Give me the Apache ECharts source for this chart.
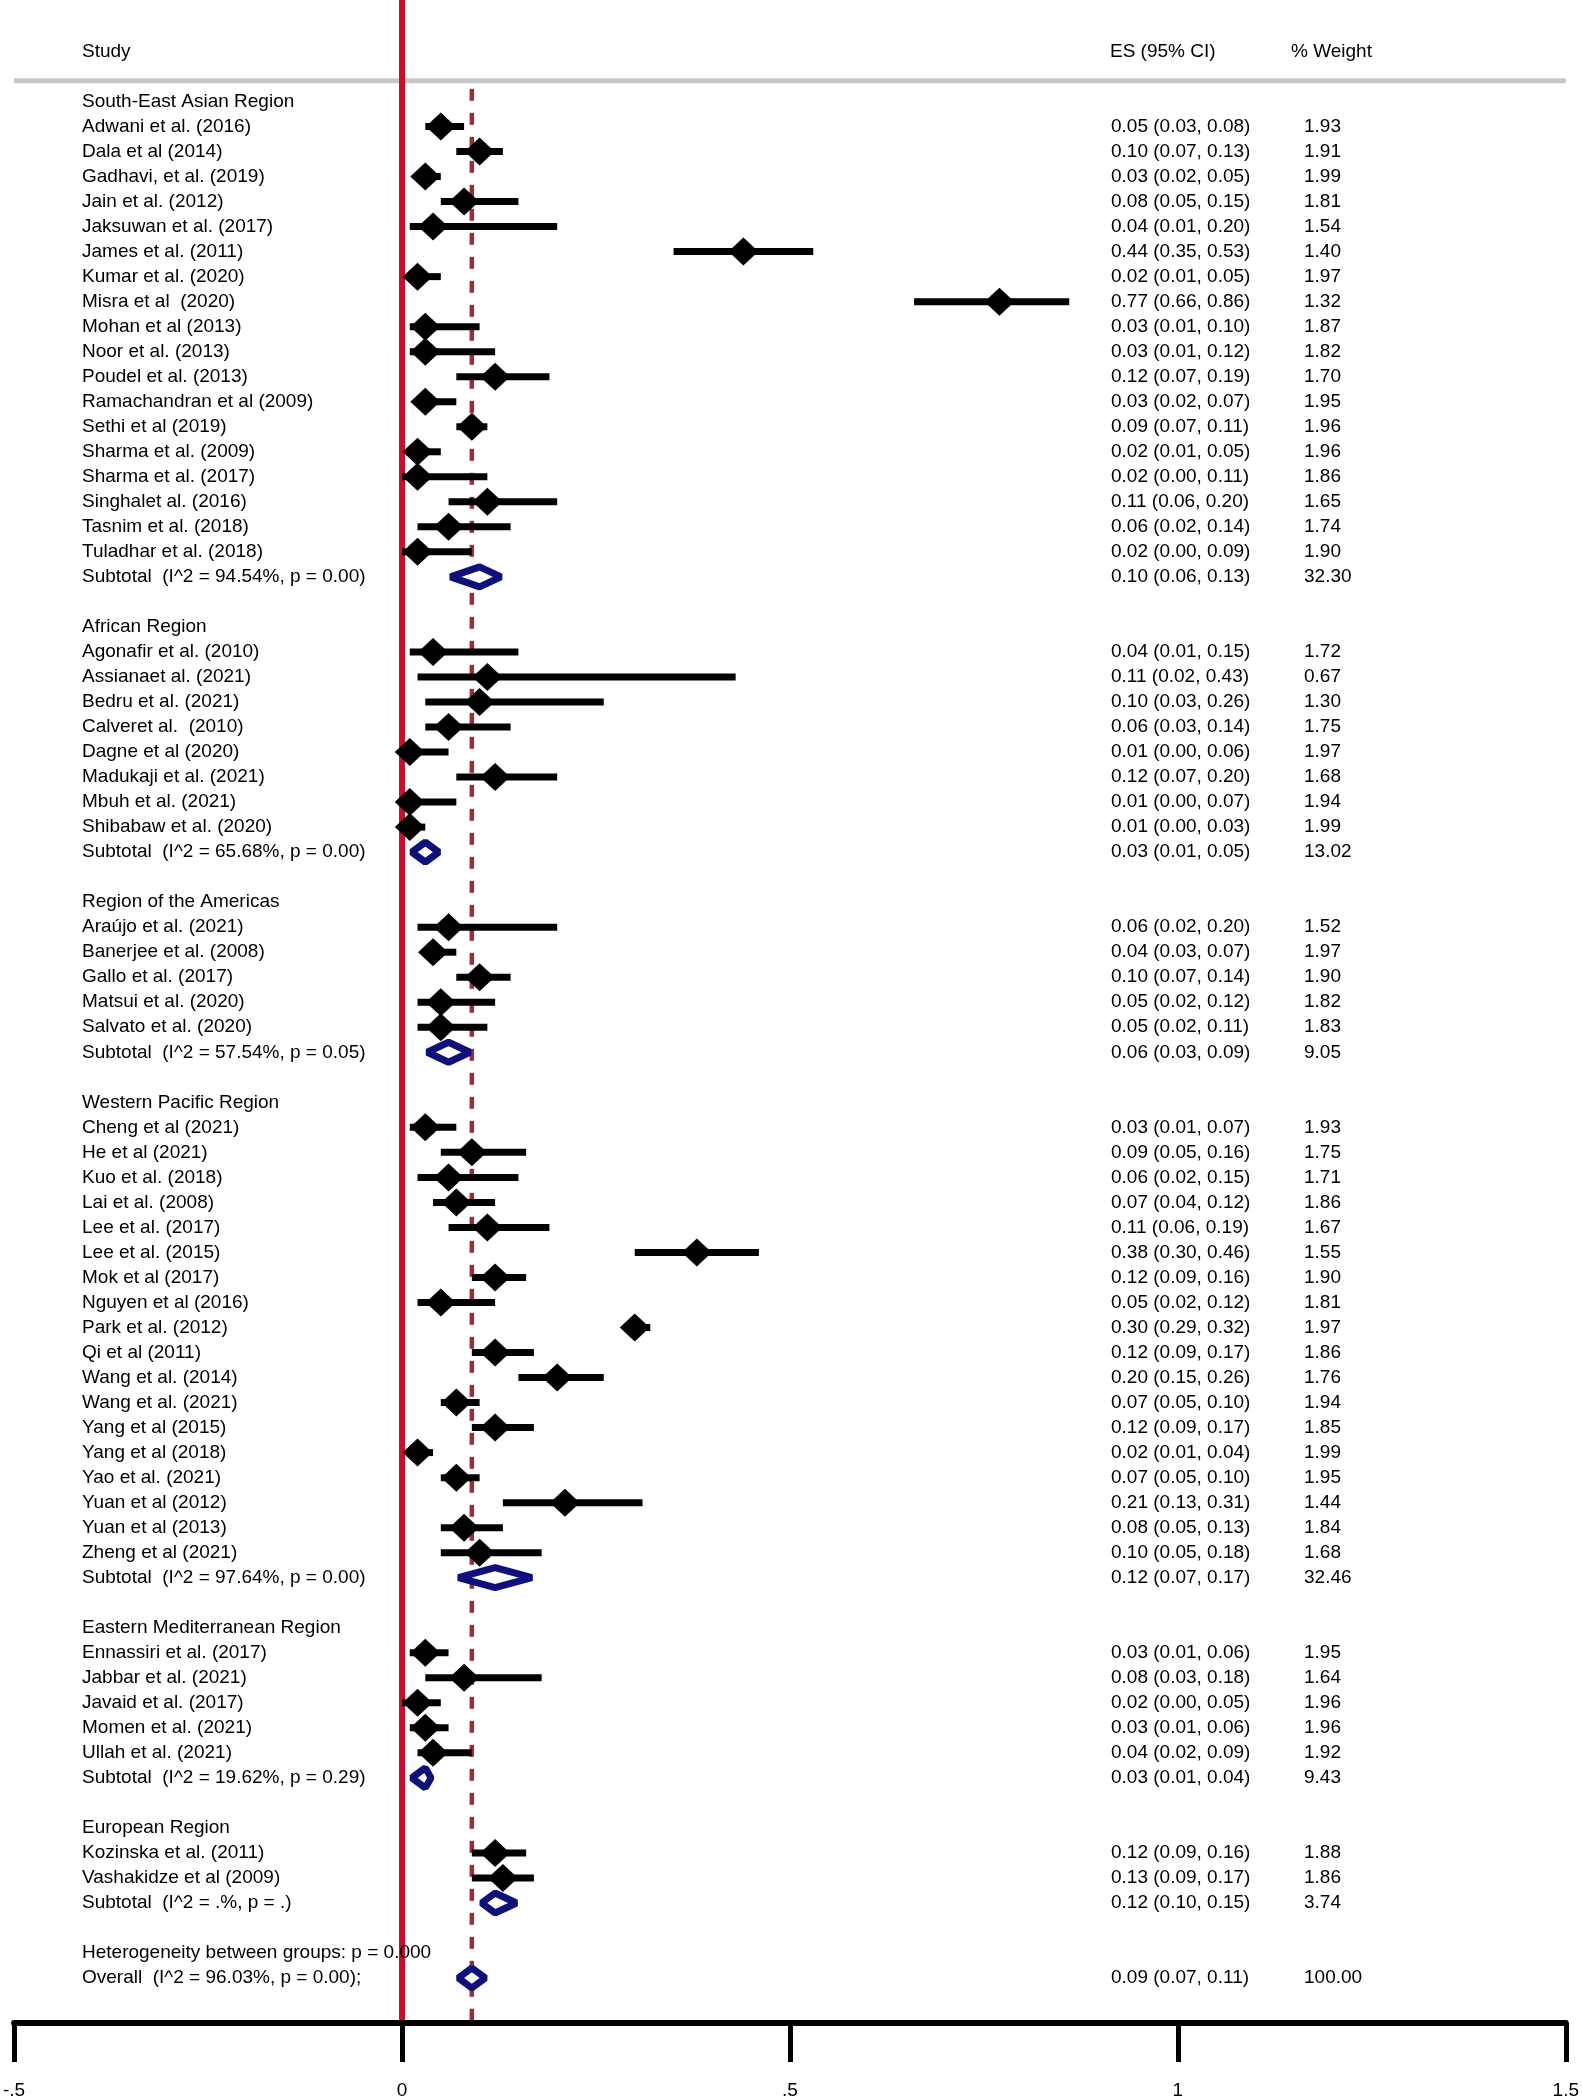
<!DOCTYPE html>
<html><head><meta charset="utf-8">
<script src="https://cdn.jsdelivr.net/npm/echarts@6/dist/echarts.min.js"></script>
<style>html,body{margin:0;padding:0;background:#fff}#c{width:1582px;height:2100px}</style>
</head><body><div id="c"></div>
<script>
// ---------- DATA ----------
const headerLabels = ["Study", "ES (95% CI)", "% Weight"];
const groupNames = ["South-East Asian Region", "African Region", "Region of the Americas",
  "Western Pacific Region", "Eastern Mediterranean Region", "European Region"];
// [study, ES, lower, upper, weight]
const seaStudies = [
  ["Adwani et al. (2016)", 0.05, 0.03, 0.08, 1.93],
  ["Dala et al (2014)", 0.10, 0.07, 0.13, 1.91],
  ["Gadhavi, et al. (2019)", 0.03, 0.02, 0.05, 1.99],
  ["Jain et al. (2012)", 0.08, 0.05, 0.15, 1.81],
  ["Jaksuwan et al. (2017)", 0.04, 0.01, 0.20, 1.54],
  ["James et al. (2011)", 0.44, 0.35, 0.53, 1.40],
  ["Kumar et al. (2020)", 0.02, 0.01, 0.05, 1.97],
  ["Misra et al  (2020)", 0.77, 0.66, 0.86, 1.32],
  ["Mohan et al (2013)", 0.03, 0.01, 0.10, 1.87],
  ["Noor et al. (2013)", 0.03, 0.01, 0.12, 1.82],
  ["Poudel et al. (2013)", 0.12, 0.07, 0.19, 1.70],
  ["Ramachandran et al (2009)", 0.03, 0.02, 0.07, 1.95],
  ["Sethi et al (2019)", 0.09, 0.07, 0.11, 1.96],
  ["Sharma et al. (2009)", 0.02, 0.01, 0.05, 1.96],
  ["Sharma et al. (2017)", 0.02, 0.00, 0.11, 1.86],
  ["Singhalet al. (2016)", 0.11, 0.06, 0.20, 1.65],
  ["Tasnim et al. (2018)", 0.06, 0.02, 0.14, 1.74],
  ["Tuladhar et al. (2018)", 0.02, 0.00, 0.09, 1.90]
];
const afrStudies = [
  ["Agonafir et al. (2010)", 0.04, 0.01, 0.15, 1.72],
  ["Assianaet al. (2021)", 0.11, 0.02, 0.43, 0.67],
  ["Bedru et al. (2021)", 0.10, 0.03, 0.26, 1.30],
  ["Calveret al.  (2010)", 0.06, 0.03, 0.14, 1.75],
  ["Dagne et al (2020)", 0.01, 0.00, 0.06, 1.97],
  ["Madukaji et al. (2021)", 0.12, 0.07, 0.20, 1.68],
  ["Mbuh et al. (2021)", 0.01, 0.00, 0.07, 1.94],
  ["Shibabaw et al. (2020)", 0.01, 0.00, 0.03, 1.99]
];
const amrStudies = [
  ["Araújo et al. (2021)", 0.06, 0.02, 0.20, 1.52],
  ["Banerjee et al. (2008)", 0.04, 0.03, 0.07, 1.97],
  ["Gallo et al. (2017)", 0.10, 0.07, 0.14, 1.90],
  ["Matsui et al. (2020)", 0.05, 0.02, 0.12, 1.82],
  ["Salvato et al. (2020)", 0.05, 0.02, 0.11, 1.83]
];
const wprStudies = [
  ["Cheng et al (2021)", 0.03, 0.01, 0.07, 1.93],
  ["He et al (2021)", 0.09, 0.05, 0.16, 1.75],
  ["Kuo et al. (2018)", 0.06, 0.02, 0.15, 1.71],
  ["Lai et al. (2008)", 0.07, 0.04, 0.12, 1.86],
  ["Lee et al. (2017)", 0.11, 0.06, 0.19, 1.67],
  ["Lee et al. (2015)", 0.38, 0.30, 0.46, 1.55],
  ["Mok et al (2017)", 0.12, 0.09, 0.16, 1.90],
  ["Nguyen et al (2016)", 0.05, 0.02, 0.12, 1.81],
  ["Park et al. (2012)", 0.30, 0.29, 0.32, 1.97],
  ["Qi et al (2011)", 0.12, 0.09, 0.17, 1.86],
  ["Wang et al. (2014)", 0.20, 0.15, 0.26, 1.76],
  ["Wang et al. (2021)", 0.07, 0.05, 0.10, 1.94],
  ["Yang et al (2015)", 0.12, 0.09, 0.17, 1.85],
  ["Yang et al (2018)", 0.02, 0.01, 0.04, 1.99],
  ["Yao et al. (2021)", 0.07, 0.05, 0.10, 1.95],
  ["Yuan et al (2012)", 0.21, 0.13, 0.31, 1.44],
  ["Yuan et al (2013)", 0.08, 0.05, 0.13, 1.84],
  ["Zheng et al (2021)", 0.10, 0.05, 0.18, 1.68]
];
const emrStudies = [
  ["Ennassiri et al. (2017)", 0.03, 0.01, 0.06, 1.95],
  ["Jabbar et al. (2021)", 0.08, 0.03, 0.18, 1.64],
  ["Javaid et al. (2017)", 0.02, 0.00, 0.05, 1.96],
  ["Momen et al. (2021)", 0.03, 0.01, 0.06, 1.96],
  ["Ullah et al. (2021)", 0.04, 0.02, 0.09, 1.92]
];
const eurStudies = [
  ["Kozinska et al. (2011)", 0.12, 0.09, 0.16, 1.88],
  ["Vashakidze et al (2009)", 0.13, 0.09, 0.17, 1.86]
];
const subtotals = [
  ["Subtotal  (I^2 = 94.54%, p = 0.00)", 0.10, 0.06, 0.13, 32.30],
  ["Subtotal  (I^2 = 65.68%, p = 0.00)", 0.03, 0.01, 0.05, 13.02],
  ["Subtotal  (I^2 = 57.54%, p = 0.05)", 0.06, 0.03, 0.09, 9.05],
  ["Subtotal  (I^2 = 97.64%, p = 0.00)", 0.12, 0.07, 0.17, 32.46],
  ["Subtotal  (I^2 = 19.62%, p = 0.29)", 0.03, 0.01, 0.04, 9.43],
  ["Subtotal  (I^2 = .%, p = .)", 0.12, 0.10, 0.15, 3.74]
];
const heterogeneityText = "Heterogeneity between groups: p = 0.000";
const overall = ["Overall  (I^2 = 96.03%, p = 0.00);", 0.09, 0.07, 0.11, 100.00];
const xTickValues = [-0.5, 0, 0.5, 1, 1.5];
const xTickLabels = ["-.5", "0", ".5", "1", "1.5"];

// ---------- LAYOUT ----------
const FONT = '"Liberation Sans", Arial, Helvetica, sans-serif';
const FS = 19;
const rowTop = 101.7, rowStep = 25.07, axisY = 2027;
const yMin = -rowTop / rowStep;
const yMax = (axisY - rowTop) / rowStep;
const headerRow = (52 - rowTop) / rowStep;
const ruleRow = (81 - rowTop) / rowStep;
const dashTopRow = (89 - rowTop) / rowStep;
const colStudy = 82, colES = 1111, colW = 1304, colWHead = 1291;

const fmtES = s => `${s[1].toFixed(2)} (${s[2].toFixed(2)}, ${s[3].toFixed(2)})`;
const groups = [seaStudies, afrStudies, amrStudies, wprStudies, emrStudies, eurStudies];
const textRows = [];
const studyPts = [];
const pooledPts = [];
let r = 0;
groups.forEach((g, i) => {
  textRows.push([r, groupNames[i], "", ""]); r++;
  g.forEach(s => {
    textRows.push([r, s[0], fmtES(s), s[4].toFixed(2)]);
    studyPts.push([r, s[1], s[2], s[3]]);
    r++;
  });
  const st = subtotals[i];
  textRows.push([r, st[0], fmtES(st), st[4].toFixed(2)]);
  pooledPts.push([r, st[1], st[2], st[3]]);
  r++;
  r++;
});
textRows.push([r, heterogeneityText, "", ""]); r++;
textRows.push([r, overall[0], fmtES(overall), overall[4].toFixed(2)]);
pooledPts.push([r, overall[1], overall[2], overall[3]]);

const chart = echarts.init(document.getElementById('c'), null, {renderer: 'canvas'});
const txt = (x, y, s) => ({type: 'text', x: x, y: y, style: {text: s, fill: '#000', fontSize: FS, fontFamily: FONT, align: 'left', verticalAlign: 'middle'}});

chart.setOption({
  animation: false,
  backgroundColor: '#fff',
  grid: {left: 9.3, right: 12.7, top: 0, bottom: 2100 - axisY, containLabel: false},
  xAxis: {
    type: 'value', min: -0.5, max: 1.5, interval: 0.5,
    axisLine: {show: true, onZero: false, lineStyle: {color: '#000', width: 6}},
    axisTick: {show: true, length: 39, lineStyle: {color: '#000', width: 5}},
    axisLabel: {show: true, margin: 58, color: '#000', fontSize: FS, fontFamily: FONT,
      showMinLabel: true, showMaxLabel: true,
      formatter: v => { const k = xTickValues.findIndex(t => Math.abs(t - v) < 1e-9); return k >= 0 ? xTickLabels[k] : ''; }},
    splitLine: {show: false}
  },
  yAxis: {type: 'value', inverse: true, min: yMin, max: yMax, show: false, splitLine: {show: false}},
  series: [
    { // header rule
      type: 'line', z: 1, symbol: 'none', silent: true,
      data: [[-0.5, ruleRow], [1.5, ruleRow]],
      lineStyle: {color: '#c8c8c8', width: 5}
    },
    { // null line
      type: 'line', z: 2, symbol: 'none', silent: true,
      data: [[0, yMin], [0, yMax - 0.12]],
      lineStyle: {color: '#c8102e', width: 6}
    },
    { // overall effect dashed line
      type: 'line', z: 3, symbol: 'none', silent: true,
      data: [[overall[1], dashTopRow], [overall[1], yMax - 0.12]],
      lineStyle: {color: '#9b2d3b', width: 4.5, type: [12, 12]}
    },
    { // studies
      type: 'custom', z: 4, silent: true,
      encode: {x: [1, 2, 3], y: 0},
      data: studyPts,
      renderItem: (params, api) => {
        const row = api.value(0);
        const c = api.coord([api.value(1), row]);
        const a = api.coord([api.value(2), row]);
        const b = api.coord([api.value(3), row]);
        const hw = 15, hh = 14;
        return {type: 'group', children: [
          {type: 'line', shape: {x1: a[0], y1: a[1], x2: b[0], y2: b[1]}, style: {stroke: '#000', lineWidth: 7, lineCap: 'butt'}},
          {type: 'polygon', shape: {points: [[c[0] - hw, c[1]], [c[0], c[1] - hh], [c[0] + hw, c[1]], [c[0], c[1] + hh]]}, style: {fill: '#000'}}
        ]};
      }
    },
    { // pooled diamonds
      type: 'custom', z: 5, silent: true,
      encode: {x: [1, 2, 3], y: 0},
      data: pooledPts,
      renderItem: (params, api) => {
        const row = api.value(0);
        const c = api.coord([api.value(1), row]);
        const a = api.coord([api.value(2), row]);
        const b = api.coord([api.value(3), row]);
        const hh = 10;
        return {type: 'polygon', shape: {points: [[a[0] + 2, c[1]], [c[0], c[1] - hh], [b[0] - 2, c[1]], [c[0], c[1] + hh]]},
          style: {fill: '#fff', stroke: '#10107a', lineWidth: 7, lineJoin: 'bevel'}};
      }
    },
    { // text columns
      type: 'custom', z: 6, silent: true,
      encode: {y: 0},
      data: textRows.map((t, i) => [t[0], i]),
      renderItem: (params, api) => {
        const t = textRows[api.value(1)];
        const y = api.coord([0, t[0]])[1];
        const ch = [txt(colStudy, y, t[1])];
        if (t[2]) ch.push(txt(colES, y, t[2]));
        if (t[3]) ch.push(txt(colW, y, t[3]));
        return {type: 'group', children: ch};
      }
    },
    { // header
      type: 'custom', z: 6, silent: true,
      encode: {y: 0},
      data: [[headerRow, 0]],
      renderItem: (params, api) => {
        const y = api.coord([0, api.value(0)])[1];
        return {type: 'group', children: [txt(colStudy, y, headerLabels[0]), txt(colES - 1, y, headerLabels[1]), txt(colWHead, y, headerLabels[2])]};
      }
    }
  ]
});
</script></body></html>
